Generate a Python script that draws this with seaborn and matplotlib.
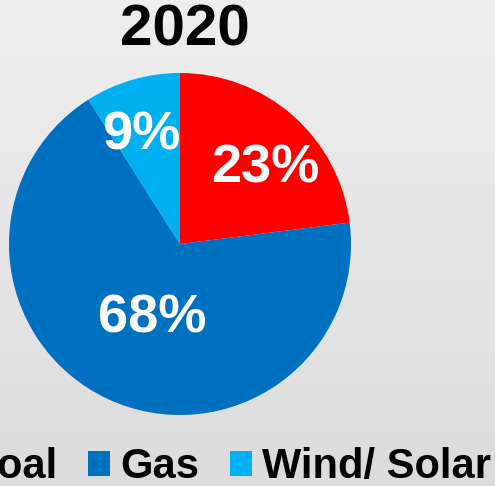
import numpy as np
import matplotlib
matplotlib.use("Agg")
import matplotlib.pyplot as plt
import seaborn as sns

# dados do gráfico
fontes = ["Coal", "Gas", "Wind/ Solar"]
participacao = [23, 68, 9]
cores = sns.color_palette(["#FF0000", "#0070C0", "#00B0F0"])
ano = "2020"

sns.set_theme(style="white")
plt.rcParams["font.family"] = ["Liberation Sans", "DejaVu Sans"]
plt.rcParams["text.color"] = "black"

fig = plt.figure(figsize=(4.95, 4.86), dpi=100)

# fundo em degradê cinza
fundo = fig.add_axes([0, 0, 1, 1])
grad = np.linspace(0, 1, 256).reshape(-1, 1)
fundo.imshow(grad, aspect="auto", cmap=matplotlib.colors.LinearSegmentedColormap.from_list(
    "g", ["#EFEFEF", "#DCDCDC"]), extent=[0, 1, 0, 1])
fundo.axis("off")

ax = fig.add_axes([9 / 495, 71 / 486, 342 / 495, 342 / 486])
wedges, textos, pcts = ax.pie(participacao, colors=cores, startangle=90, counterclock=False,
                              autopct="%d%%", pctdistance=0.7,
                              wedgeprops=dict(linewidth=0),
                              textprops=dict(color="white", fontsize=39, fontweight="bold"))
ax.set_xlim(-1, 1)
ax.set_ylim(-1, 1)
ax.set_aspect("equal")

# posição dos rótulos (distância do centro, desvio do ângulo médio em graus), na linha de base
ajustes = [(0.612, -12.9), (0.545, 7.7), (0.595, 6.3)]
for w, t, (d, desvio) in zip(wedges, pcts, ajustes):
    ang = np.deg2rad((w.theta1 + w.theta2) / 2 + desvio)
    t.set_position((d * np.cos(ang), d * np.sin(ang)))
    t.set_va("baseline")

fig.text(185 / 495, 1 - 31 / 486, ano, ha="center", va="center",
         fontsize=42, fontweight="bold", color="black")

leg = fig.legend(wedges, fontes, loc="center", bbox_to_anchor=(213 / 495, 1 - 467 / 486),
                 ncol=3, frameon=False, handlelength=0.53, handleheight=0.53,
                 handletextpad=0.26, columnspacing=0.72,
                 prop=dict(size=30, weight="bold"))
for t in leg.get_texts():
    t.set_color("black")

fig.savefig("out.png", dpi=100)
